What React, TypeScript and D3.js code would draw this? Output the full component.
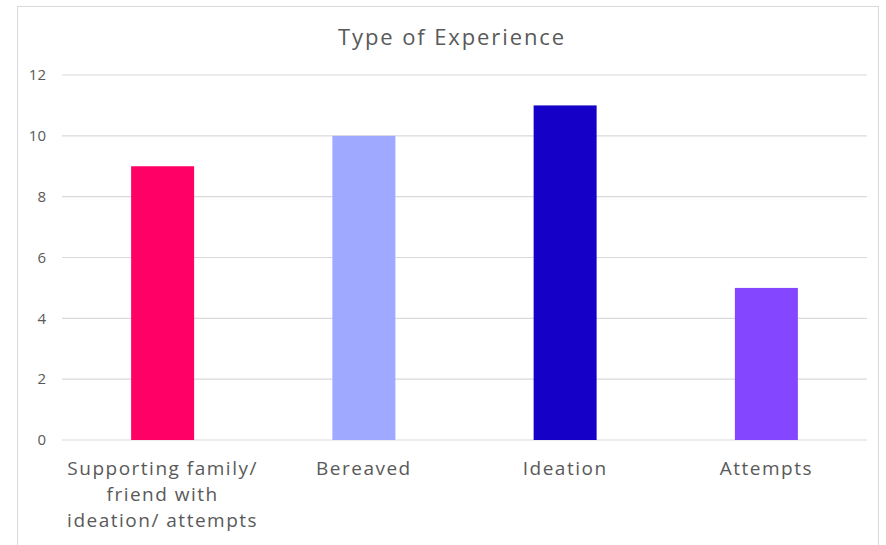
import React from "react";
import * as d3 from "d3";

const categories: string[][] = [
  ["Supporting family/", "friend with", "ideation/ attempts"],
  ["Bereaved"],
  ["Ideation"],
  ["Attempts"],
];
const values: number[] = [9, 10, 11, 5];
const colors: string[] = ["#FF0066", "#9EA9FF", "#1400C6", "#8447FF"];
const yTicks: number[] = [0, 2, 4, 6, 8, 10, 12];
const title = "Type of Experience";

const W = 886;
const H = 545;
const margin = { left: 62, right: 19, top: 75, bottom: 105 };
const font = "'Open Sans', Lato, sans-serif";
const textColor = "#595959";

export default function App() {
  const x = d3
    .scaleBand<number>()
    .domain(d3.range(values.length))
    .range([margin.left, W - margin.right])
    .paddingInner(0.687)
    .paddingOuter(0.3435);
  const y = d3.scaleLinear().domain([0, 12]).range([H - margin.bottom, margin.top]);

  return (
    <svg
      width={W}
      height={H}
      style={{ position: "absolute", left: 0, top: 0, background: "#fff" }}
      fontFamily={font}
    >
      <rect x={17.5} y={6.5} width={861} height={560} fill="#fff" stroke="#d9d9d9" strokeWidth={1} />
      <text x={452} y={45} textAnchor="middle" fontSize={22} letterSpacing={1.9} fill={textColor}>
        {title}
      </text>
      {yTicks.map((t) => (
        <g key={t}>
          <line
            x1={margin.left}
            x2={W - margin.right}
            y1={y(t)}
            y2={y(t)}
            stroke="#d9d9d9"
            strokeWidth={1.2}
          />
          <text x={46} y={y(t)} dy="0.35em" textAnchor="end" fontSize={15} fill={textColor}>
            {t}
          </text>
        </g>
      ))}
      {values.map((v, i) => (
        <rect
          key={i}
          x={x(i)!}
          y={y(v)}
          width={x.bandwidth()}
          height={y(0) - y(v)}
          fill={colors[i]}
        />
      ))}
      {categories.map((lines, i) => (
        <text
          key={i}
          x={x(i)! + x.bandwidth() / 2}
          y={475}
          textAnchor="middle"
          fontSize={19}
          letterSpacing={1.5}
          fill={textColor}
        >
          {lines.map((l, j) => (
            <tspan key={j} x={x(i)! + x.bandwidth() / 2} dy={j === 0 ? 0 : 26}>
              {l}
            </tspan>
          ))}
        </text>
      ))}
    </svg>
  );
}
